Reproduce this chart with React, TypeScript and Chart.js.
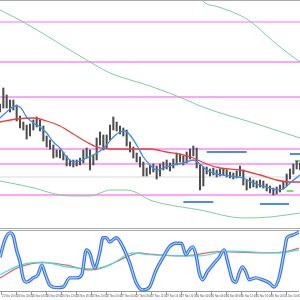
import { useEffect, useRef } from "react";
import { Chart, registerables } from "chart.js";
Chart.register(...registerables);

// ---------- main panel data (bar index 0..90, EURUSD-like prices) ----------
const highs = [1.1896,1.1912,1.1905,1.1900,1.1900,1.1895,1.1884,1.1878,1.1875,1.1876,1.1880,1.1883,1.1880,1.1874,1.1864,1.1860,1.1855,1.1850,1.1850,1.1848,1.1844,1.1840,1.1840,1.1840,1.1842,1.1850,1.1852,1.1850,1.1845,1.1862,1.1868,1.1865,1.1865,1.1875,1.1883,1.1878,1.1874,1.1872,1.1870,1.1858,1.1853,1.1847,1.1843,1.1838,1.1832,1.1835,1.1836,1.1834,1.1836,1.1838,1.1840,1.1837,1.1841,1.1847,1.1846,1.1844,1.1848,1.1851,1.1854,1.1852,1.1835,1.1833,1.1833,1.1831,1.1832,1.1830,1.1831,1.1831,1.1830,1.1828,1.1827,1.1829,1.1834,1.1830,1.1820,1.1822,1.1820,1.1819,1.1820,1.1819,1.1816,1.1814,1.1812,1.1813,1.1815,1.1818,1.1826,1.1831,1.1836,1.1839,1.1837];
const lows = [1.1888,1.1892,1.1892,1.1888,1.1890,1.1879,1.1872,1.1870,1.1861,1.1864,1.1870,1.1873,1.1869,1.1859,1.1853,1.1851,1.1842,1.1843,1.1842,1.1840,1.1834,1.1834,1.1833,1.1834,1.1835,1.1837,1.1842,1.1830,1.1835,1.1840,1.1855,1.1850,1.1852,1.1860,1.1870,1.1869,1.1866,1.1864,1.1854,1.1848,1.1842,1.1838,1.1833,1.1824,1.1824,1.1826,1.1828,1.1821,1.1824,1.1830,1.1831,1.1829,1.1832,1.1835,1.1838,1.1835,1.1837,1.1841,1.1844,1.1832,1.1810,1.1814,1.1826,1.1824,1.1825,1.1823,1.1824,1.1825,1.1823,1.1822,1.1821,1.1822,1.1824,1.1815,1.1810,1.1812,1.1813,1.1812,1.1813,1.1812,1.1809,1.1807,1.1805,1.1806,1.1808,1.1811,1.1814,1.1821,1.1826,1.1831,1.1830];

const redBars = [0,5,10,14,18,22,26,29,33,40,45,50,55,58,62,66,72,78,83,87,90];
const redMA = [1.1878,1.1881,1.1882,1.1879,1.1874,1.1866,1.1858,1.1853,1.1851,1.1851,1.1851,1.1848,1.1845,1.1842,1.1836,1.1832,1.1830,1.1825,1.1820,1.1818,1.1818];

const blueBars = [0,2,4.5,6,8,10,12,14,16,18,20,22,24,26,28,30,32,34,36,37.5,39,41,43,45,47,49,52,55,58,60,62,65,69,73,76,80,83,85,87,90];
const blueMA = [1.1882,1.1888,1.1894,1.1893,1.1883,1.1877,1.1873,1.1867,1.1858,1.1852,1.1843,1.1838,1.1839,1.1842,1.1845,1.1849,1.1855,1.1863,1.1868,1.1869,1.1865,1.1855,1.1843,1.1835,1.1830,1.1832,1.1835,1.1837,1.1840,1.1836,1.1830,1.1826,1.1824,1.1822,1.1817,1.1813,1.1810,1.1811,1.1817,1.1825];

const greenABars = [0,7,27,33,45,56,60,78,90];
const greenA = [1.1990,1.1978,1.1938,1.1927,1.1914,1.1900,1.1894,1.1875,1.1862];
const greenBBars = [60,61.5,64.5,69,73.5,76.5,79.5,84,90];
const greenB = [1.2003,1.1997,1.1994,1.1989,1.1982,1.1975,1.1966,1.1953,1.1938];
const greenCBars = [0,9,18,22.5,27,30,33,37.5,40.5,45,49.5,60,73,81,90];
const greenC = [1.1819,1.1813,1.1805,1.1804,1.1804,1.1807,1.1810,1.1810,1.1808,1.1800,1.1796,1.1790,1.1782,1.1783,1.1787];

const magentaLevels = [1.1938,1.1903,1.1851,1.1836,1.1805];
const pinkLevel = 1.1978;
const priceLine = 1.1823;

// [startBar, endBar, price]
const blueSegments: [number, number, number][] = [[62,74,1.1848],[55,64,1.1798],[78,86.7,1.1796],[87,90,1.1846]];
const greenSegments: [number, number, number][] = [[88.5,90,1.1839],[86,88,1.1809]];

// ---------- oscillator data ----------
const kBars = [0,1.5,3,4,5,6,7,8,10,11.4,12.6,13.5,15,17,19,21,23,24.6,26,27,28.5,30,31,32,33,35,37,39,41,43,45,47,49,51,53,54.6,56,57,58,59,60,61,62.4,64,66,67.5,68.4,70,71,72,73,74,75,77,79,81,82.5,84,85.5,86.4,88,90];
const kVals = [57,86,97,92,68,50,22,16,23,28,44,31,11,7,8,23,23,28,69,64,39,64,89,89,82,89,74,48,15,3,8,36,56,74,80,80,61,69,74,61,31,20,33,44,57,69,52,20,16,31,41,33,20,23,20,15,8,23,64,89,93,98];
const rBars = [0,6,13,20,27,30,38,42,45,55,66,81,86,90];
const rVals = [23,41,48,44,36,38,57,64,62,59,66,64,66,72];
const cBars = [0,6,13,20,27,33,40,45,60,69,84,90];
const cVals = [28,44,49,41,38,44,64,61,59,67,64,69];

const timeLabels = ["25 Nov 20:00","26 Nov 00:00","26 Nov 04:00","26 Nov 08:00","26 Nov 12:00","26 Nov 16:00","26 Nov 20:00","27 Nov 00:00","27 Nov 04:00","27 Nov 08:00","27 Nov 12:00","27 Nov 16:00","27 Nov 20:00","30 Nov 00:00","30 Nov 04:00","30 Nov 08:00","30 Nov 12:00","30 Nov 16:00","30 Nov 20:00","1 Dec 00:00"];

const pts = (bars: number[], vals: number[]) => bars.map((b, i) => ({ x: b, y: vals[i] }));
const flat = (a: number, b: number, p: number) => [{ x: a, y: p }, { x: b, y: p }];

export default function App() {
  const mainRef = useRef<HTMLCanvasElement>(null);
  const oscRef = useRef<HTMLCanvasElement>(null);

  useEffect(() => {
    const line = (data: any, color: string, width: number, order: number, smooth = false) => ({
      type: "line" as const,
      data,
      borderColor: color,
      borderWidth: width,
      pointRadius: 0,
      fill: false,
      order,
      tension: smooth ? 0.4 : 0,
      cubicInterpolationMode: smooth ? ("monotone" as const) : ("default" as const),
    });

    const mainDatasets: any[] = [
      line(flat(0, 90, pinkLevel), "#ffb6ff", 2, 20),
      ...magentaLevels.map((p) => line(flat(0, 90, p), "#ff84ff", 1.5, 20)),
      line(flat(0, 90, priceLine), "#ececec", 2, 21),
      line(pts(greenABars, greenA), "#7fcf98", 1, 15, true),
      line(pts(greenBBars, greenB), "#7fcf98", 1, 15, true),
      line(pts(greenCBars, greenC), "#7fcf98", 1, 15, true),
      ...blueSegments.map((s) => line(flat(s[0], s[1], s[2]), "#4a8fe6", 2, 14)),
      ...greenSegments.map((s) => line(flat(s[0], s[1], s[2]), "#33dd33", 1.5, 14)),
      {
        type: "bar",
        data: highs.map((h, i) => ({ x: i, y: [lows[i], h] })),
        backgroundColor: "#4e4e4e",
        barThickness: 1.4,
        order: 10,
      },
      line(pts(redBars, redMA), "#f03c3c", 1.3, 2, true),
      line(pts(blueBars, blueMA), "#3d8ee8", 1.3, 1, true),
    ];

    const main = new Chart(mainRef.current!, {
      type: "bar",
      data: { datasets: mainDatasets },
      options: {
        animation: false,
        responsive: false,
        events: [],
        layout: { padding: 0, autoPadding: false },
        plugins: { legend: { display: false }, tooltip: { enabled: false } },
        scales: {
          x: { type: "linear", min: 0, max: 90, display: false, offset: false },
          y: { min: 1.1772, max: 1.1999, display: false },
        },
      } as any,
    });

    const osc = new Chart(oscRef.current!, {
      type: "line",
      data: {
        datasets: [
          line(pts(rBars, rVals), "#f06060", 1.2, 5, true),
          line(pts(cBars, cVals), "#33e6e6", 1.2, 4, true),
          line(pts(kBars, kVals), "#3a78de", 3.4, 2, true),
          line(pts(kBars, kVals), "#b4d0f7", 1.1, 1, true),
        ] as any,
      },
      options: {
        animation: false,
        responsive: false,
        events: [],
        layout: { padding: { top: 0, left: 0, right: 0, bottom: 2 }, autoPadding: false },
        plugins: { legend: { display: false }, tooltip: { enabled: false } },
        scales: {
          x: {
            type: "linear",
            min: 0,
            max: 90,
            offset: false,
            position: "bottom",
            grid: { drawOnChartArea: false, drawTicks: true, tickLength: 3, color: "#9a9a9a" },
            border: { display: true, color: "#9a9a9a", width: 1 },
            afterBuildTicks: (s: any) => {
              s.ticks = timeLabels.map((_, i) => ({ value: 0.6 + i * 4.5 }));
            },
            ticks: {
              autoSkip: false,
              maxRotation: 0,
              minRotation: 0,
              padding: 0,
              align: "start",
              color: "#555",
              font: { size: 2.6, family: "Liberation Sans" },
              callback: (_v: any, i: number) => timeLabels[i],
            },
          },
          y: { min: 0, max: 100, display: false },
        },
      } as any,
    });

    return () => {
      main.destroy();
      osc.destroy();
    };
  }, []);

  const hl = (top: number): React.CSSProperties => ({
    position: "absolute", left: 0, top, width: 300, height: 1, background: "#aaaaaa",
  });

  return (
    <div style={{ position: "fixed", left: 0, top: 0, width: 300, height: 300, background: "#fff", overflow: "hidden" }}>
      <div style={hl(0)} />
      <canvas ref={mainRef} width={300} height={227} style={{ position: "absolute", left: 0, top: 1 }} />
      <div style={hl(228)} />
      <div style={hl(230)} />
      <canvas ref={oscRef} width={300} height={69} style={{ position: "absolute", left: 0, top: 231 }} />
    </div>
  );
}
